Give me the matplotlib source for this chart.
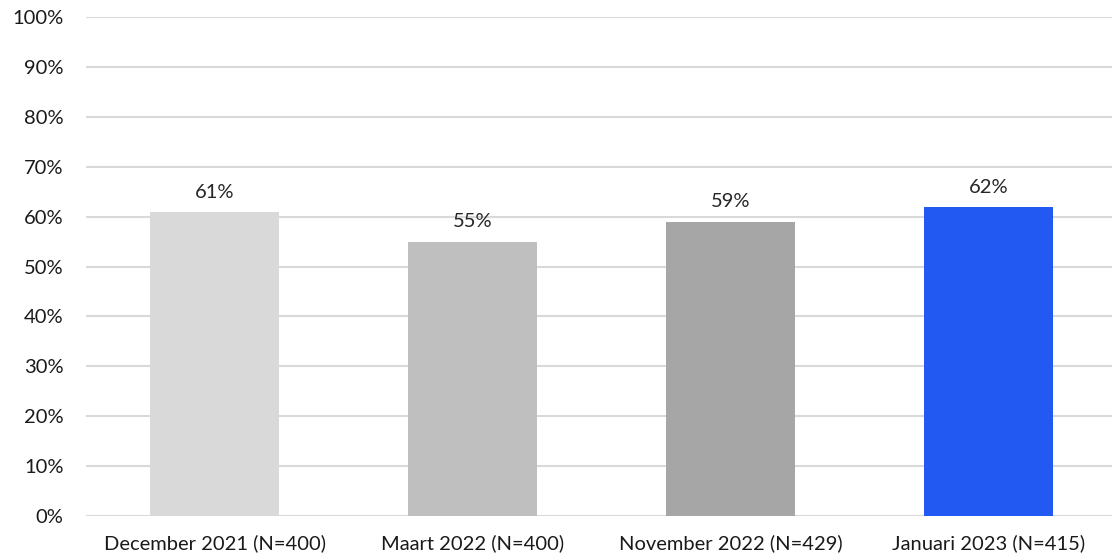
import matplotlib
matplotlib.use("Agg")
import matplotlib.pyplot as plt
from matplotlib.ticker import PercentFormatter

categories = ["December 2021 (N=400)", "Maart 2022 (N=400)",
              "November 2022 (N=429)", "Januari 2023 (N=415)"]
values = [61, 55, 59, 62]
colors = ["#D9D9D9", "#BFBFBF", "#A6A6A6", "#2259F2"]
yticks = list(range(0, 101, 10))

plt.rcParams["font.family"] = ["Lato", "DejaVu Sans"]

fig = plt.figure(figsize=(11.12, 5.6), dpi=100)
ax = fig.add_axes([0.0773, 0.0786, 0.9227, 0.891])

x = range(len(categories))
ax.bar(x, values, width=0.5, color=colors, zorder=3)

for xi, v in zip(x, values):
    ax.annotate(f"{v}%", (xi, v), xytext=(0, 8), textcoords="offset points",
                ha="center", va="bottom", fontsize=14.5, color="#262626")

ax.set_xlim(-0.5, 3.477)
ax.set_ylim(0, 100)
ax.set_yticks(yticks)
ax.yaxis.set_major_formatter(PercentFormatter(decimals=0))
ax.set_xticks(list(x))
ax.set_xticklabels(categories)

ax.grid(axis="y", color="#D9D9D9", linewidth=1.5, zorder=0)
for s in ax.spines.values():
    s.set_visible(False)
ax.tick_params(axis="both", length=0, labelsize=14.5, colors="#1A1A1A")
ax.tick_params(axis="x", pad=13)
ax.tick_params(axis="y", pad=16)

fig.savefig("out.png", dpi=100)
